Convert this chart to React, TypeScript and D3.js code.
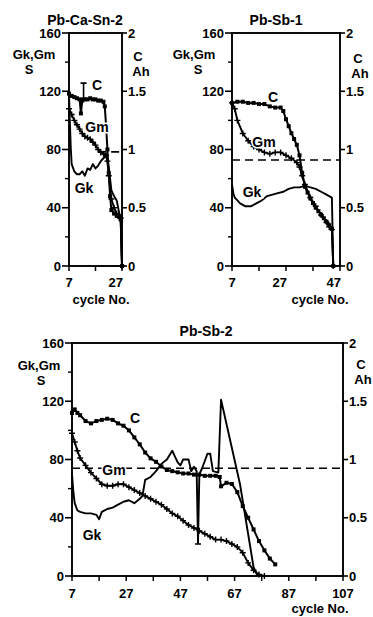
import * as d3 from "d3";

// ---- values (cycle No. / S / Ah) ----

// Pb-Ca-Sn-2
const pcsCycleC = [7, 8, 9, 10, 11, 11.5, 12, 13, 14, 15, 16, 17, 18, 19, 20, 20.5, 21, 21.5, 22, 22.5, 23, 24, 25, 26, 26.5, 27];
const pcsC = [1.48, 1.46, 1.45, 1.44, 1.43, 1.31, 1.42, 1.43, 1.43, 1.44, 1.43, 1.43, 1.42, 1.42, 1.41, 1.37, 1.2, 1.0, 0.8, 0.6, 0.48, 0.45, 0.43, 0.42, 0.4, 0];
const pcsCycleGm = [7, 8, 9, 10, 11, 12, 13, 14, 15, 16, 17, 18, 19, 20, 21, 21.5, 22, 23, 24, 25, 26, 26.5, 27];
const pcsGm = [108, 104, 100, 97, 94, 91, 89, 88, 87, 85, 83, 80, 78, 77, 76, 72, 62, 46, 40, 36, 34, 33, 0];
const pcsCycleGk = [7, 7.3, 7.7, 8, 9, 10, 11, 12, 13, 14, 15, 16, 17, 18, 19, 20, 21, 22, 23, 24, 25, 26, 26.5, 27];
const pcsGk = [118, 100, 80, 70, 65, 63, 63, 65, 62, 67, 66, 70, 67, 69, 72, 74, 76, 68, 52, 48, 45, 36, 34, 0];

// Pb-Sb-1
const sb1CycleC = [7, 9, 11, 13, 15, 17, 19, 21, 23, 25, 26, 27, 28, 29, 30, 31, 32, 33, 34, 35, 36, 37, 38, 39, 40, 41, 42, 43, 44, 44.5];
const sb1C = [1.4, 1.41, 1.41, 1.4, 1.4, 1.39, 1.39, 1.37, 1.36, 1.36, 1.33, 1.26, 1.2, 1.14, 1.09, 1.04, 0.95, 0.8, 0.68, 0.63, 0.58, 0.54, 0.5, 0.47, 0.44, 0.41, 0.38, 0.35, 0.32, 0];
const sb1CycleGm = [7, 8, 9, 11, 13, 15, 17, 19, 21, 23, 25, 27, 29, 31, 32, 33, 34, 36, 38, 40, 42, 43, 44, 44.5];
const sb1Gm = [112, 108, 100, 91, 86, 82, 80, 78, 77, 78, 78, 76, 74, 71, 68, 62, 56, 47, 41, 35, 30, 27, 25, 0];
const sb1CycleGk = [7, 7.5, 8, 9, 10, 11, 12, 14, 16, 18, 20, 22, 24, 26, 28, 30, 32, 34, 36, 38, 40, 42, 44, 44.5];
const sb1Gk = [56, 50, 47, 45, 43, 42, 41, 41, 43, 45, 48, 49, 50, 51, 53, 54, 54, 55, 54, 53, 51, 49, 47, 0];

// Pb-Sb-2
const sb2CycleC = [7, 8, 9, 10, 12, 14, 16, 18, 20, 22, 24, 26, 28, 30, 32, 34, 36, 38, 40, 42, 44, 46, 48, 50, 52, 54, 56, 58, 60, 61.5, 62, 64, 66, 68, 70, 72, 74, 76, 78, 80, 82];
const sb2C = [1.4, 1.43, 1.4, 1.38, 1.33, 1.31, 1.33, 1.34, 1.35, 1.34, 1.31, 1.29, 1.25, 1.19, 1.13, 1.06, 1.01, 0.98, 0.94, 0.91, 0.9, 0.89, 0.88, 0.88, 0.87, 0.87, 0.86, 0.86, 0.86, 0.85, 0.77, 0.8, 0.79, 0.72, 0.6, 0.5, 0.4, 0.3, 0.22, 0.15, 0.1];
const sb2CycleGm = [7, 8, 9, 10, 12, 14, 16, 18, 20, 22, 24, 26, 28, 30, 32, 34, 36, 38, 40, 42, 44, 46, 48, 50, 52, 54, 56, 58, 60, 62, 64, 66, 68, 70, 72, 74, 76, 78];
const sb2Gm = [98, 92, 86, 81, 76, 71, 67, 63, 62, 62, 63, 63, 61, 59, 57, 55, 53, 51, 49, 46, 43, 41, 38, 35, 33, 31, 29, 27, 25, 25, 24, 22, 20, 16, 9, 4, 1, 0];
const sb2CycleGk = [7, 7.5, 8, 9, 10, 12, 14, 16, 17, 18, 20, 22, 24, 26, 28, 30, 32, 33, 34, 36, 38, 40, 42, 44, 45, 46, 47, 48, 50, 51, 52, 53, 53.5, 54, 55, 57, 58, 59, 61, 62, 69, 74, 75.5];
const sb2Gk = [70, 58, 50, 45, 44, 43, 43, 42, 39, 44, 46, 47, 49, 51, 52, 50, 53, 55, 66, 68, 72, 77, 80, 86, 82, 78, 76, 80, 80, 72, 75, 72, 23, 70, 74, 84, 84, 72, 71, 121, 63, 6, 0];

// axis ticks
const gTicks = [0, 40, 80, 120, 160];
const gMinorTicks = [20, 60, 100, 140];
const cTicks = [0, 0.5, 1, 1.5, 2];
const pcsXTicks = [7, 17, 27];
const pcsXLabels = [7, 27];
const sb1XTicks = [7, 17, 27, 37, 47];
const sb1XLabels = [7, 27, 47];
const sb2XTicks = [7, 17, 27, 37, 47, 57, 67, 77, 87, 97, 107];
const sb2XLabels = [7, 27, 47, 67, 87, 107];

const FONT = "'Liberation Sans', Arial, sans-serif";

type Pt = [number, number];
const zip = (xs: number[], ys: number[]): Pt[] => xs.map((x, i) => [x, ys[i]]);

type PanelProps = {
  title: string;
  box: { left: number; right: number; top: number; bottom: number };
  xDomain: [number, number];
  xTicks: number[];
  xLabels: number[];
  xLabelAnchor: "middle" | "end";
  labelBase: number;
  C: Pt[];
  Gm: Pt[];
  Gk: Pt[];
  dashAh: number;
  dashFrom?: number;
  errC?: { cycle: number; lo: number; hi: number }[];
  errG?: { cycle: number; lo: number; hi: number }[];
  pos: {
    title: Pt; cycle: Pt; gk: Pt; s: Pt; c: Pt; ah: Pt;
    lC: Pt; lGm: Pt; lGk: Pt;
  };
};

function Panel(p: PanelProps) {
  const { left, right, top, bottom } = p.box;
  const x = d3.scaleLinear().domain(p.xDomain).range([left, right]);
  const yG = d3.scaleLinear().domain([0, 160]).range([bottom, top]);
  const yC = d3.scaleLinear().domain([0, 2]).range([bottom, top]);
  const lineG = d3.line<Pt>().x((d) => x(d[0])).y((d) => yG(d[1]));
  const lineC = d3.line<Pt>().x((d) => x(d[0])).y((d) => yC(d[1]));
  const halo = { stroke: "#fff", strokeWidth: 3, paintOrder: "stroke" as const };
  const t = (xy: Pt, s: string, size = 14, anchor = "middle") => (
    <text x={xy[0]} y={xy[1]} textAnchor={anchor} fontSize={size}>{s}</text>
  );
  const dashStart = p.dashFrom !== undefined ? x(p.dashFrom) : left;

  return (
    <g fontFamily={FONT} fontWeight="bold" fill="#000">
      {/* dashed reference */}
      <line x1={dashStart} x2={right} y1={yC(p.dashAh)} y2={yC(p.dashAh)} stroke="#000" strokeWidth={1.7} strokeDasharray="8 5" />

      {/* series */}
      <path d={lineG(p.Gk) ?? ""} fill="none" stroke="#000" strokeWidth={1.9} strokeLinejoin="round" />
      <path d={lineG(p.Gm) ?? ""} fill="none" stroke="#000" strokeWidth={1.9} strokeLinejoin="round" />
      <path d={lineC(p.C) ?? ""} fill="none" stroke="#000" strokeWidth={2} strokeLinejoin="round" />
      {p.Gm.map((d, i) => (
        <path key={"gm" + i} d={`M${x(d[0]) - 3},${yG(d[1])}h6M${x(d[0])},${yG(d[1]) - 3}v6`} stroke="#000" strokeWidth={1.4} />
      ))}
      {p.C.map((d, i) => (
        <rect key={"c" + i} x={x(d[0]) - 2} y={yC(d[1]) - 2} width={4} height={4} fill="#000" />
      ))}
      {(p.errC ?? []).map((e, i) => (
        <path key={"ec" + i} d={`M${x(e.cycle)},${yC(e.lo)}V${yC(e.hi)}M${x(e.cycle) - 3},${yC(e.hi)}h6M${x(e.cycle) - 3},${yC(e.lo)}h6`} stroke="#000" strokeWidth={1.6} />
      ))}
      {(p.errG ?? []).map((e, i) => (
        <path key={"eg" + i} d={`M${x(e.cycle)},${yG(e.lo)}V${yG(e.hi)}M${x(e.cycle) - 3},${yG(e.lo)}h6`} stroke="#000" strokeWidth={1.6} />
      ))}

      {/* frame */}
      <rect x={left} y={top} width={right - left} height={bottom - top} fill="none" stroke="#000" strokeWidth={1.9} />

      {/* left axis */}
      {gTicks.map((v) => (
        <g key={"g" + v}>
          <line x1={left - 7} x2={left} y1={yG(v)} y2={yG(v)} stroke="#000" strokeWidth={1.6} />
          <text x={left - 8} y={yG(v)} dy="0.36em" textAnchor="end" fontSize={13}>{v}</text>
        </g>
      ))}
      {gMinorTicks.map((v) => (
        <line key={"gm" + v} x1={left - 4} x2={left} y1={yG(v)} y2={yG(v)} stroke="#000" strokeWidth={1.4} />
      ))}

      {/* right axis */}
      {cTicks.map((v) => (
        <g key={"c" + v}>
          <line x1={right} x2={right + 5} y1={yC(v)} y2={yC(v)} stroke="#000" strokeWidth={1.6} />
          <text x={right + 6} y={yC(v)} dy="0.36em" textAnchor="start" fontSize={13}>{v}</text>
        </g>
      ))}

      {/* x axis */}
      {p.xTicks.map((v) => (
        <line key={"x" + v} x1={x(v)} x2={x(v)} y1={bottom} y2={bottom + 5} stroke="#000" strokeWidth={1.5} />
      ))}
      {p.xLabels.map((v) => (
        <text key={"xl" + v} x={x(v) + (p.xLabelAnchor === "end" && v !== p.xDomain[0] ? 1 : 0)} y={p.labelBase}
          textAnchor={v === p.xDomain[0] ? "middle" : p.xLabelAnchor} fontSize={13}>{v}</text>
      ))}

      {/* titles */}
      {t(p.pos.title, p.title, 14)}
      {t(p.pos.cycle, "cycle No.", 13)}
      {t(p.pos.gk, "Gk,Gm", 13)}
      {t(p.pos.s, "S", 13)}
      {t(p.pos.c, "C", 13)}
      {t(p.pos.ah, "Ah", 13)}

      {/* series labels */}
      <g {...halo}>
        {t(p.pos.lC, "C", 14)}
        {t(p.pos.lGm, "Gm", 14)}
        {t(p.pos.lGk, "Gk", 14)}
      </g>
    </g>
  );
}

export default function App() {
  return (
    <svg width={373} height={617} style={{ position: "absolute", left: 0, top: 0, background: "#fff" }}>
      <Panel
        title="Pb-Ca-Sn-2"
        box={{ left: 69, right: 122, top: 33, bottom: 266 }}
        xDomain={[7, 27]}
        xTicks={pcsXTicks}
        xLabels={pcsXLabels}
        xLabelAnchor="end"
        labelBase={287}
        C={zip(pcsCycleC, pcsC)}
        Gm={zip(pcsCycleGm, pcsGm)}
        Gk={zip(pcsCycleGk, pcsGk)}
        dashAh={0.98}
        dashFrom={18}
        errC={[{ cycle: 12.5, lo: 1.44, hi: 1.57 }]}
        pos={{
          title: [85, 25], cycle: [101, 304], gk: [34, 59], s: [29, 74], c: [138, 61], ah: [141, 76],
          lC: [97, 90], lGm: [97, 132], lGk: [84, 193],
        }}
      />
      <Panel
        title="Pb-Sb-1"
        box={{ left: 232, right: 340, top: 33, bottom: 266 }}
        xDomain={[7, 47]}
        xTicks={sb1XTicks}
        xLabels={sb1XLabels}
        xLabelAnchor="end"
        labelBase={287}
        C={zip(sb1CycleC, sb1C)}
        Gm={zip(sb1CycleGm, sb1Gm)}
        Gk={zip(sb1CycleGk, sb1Gk)}
        dashAh={0.91}
        pos={{
          title: [276, 25], cycle: [320, 304], gk: [194, 59], s: [198, 74], c: [358, 63], ah: [360, 78],
          lC: [273, 102], lGm: [264, 147], lGk: [252, 197],
        }}
      />
      <Panel
        title="Pb-Sb-2"
        box={{ left: 72, right: 343, top: 343, bottom: 576 }}
        xDomain={[7, 107]}
        xTicks={sb2XTicks}
        xLabels={sb2XLabels}
        xLabelAnchor="middle"
        labelBase={598}
        C={zip(sb2CycleC, sb2C)}
        Gm={zip(sb2CycleGm, sb2Gm)}
        Gk={zip(sb2CycleGk, sb2Gk)}
        dashAh={0.925}
        errG={[{ cycle: 53.5, lo: 22, hi: 26 }]}
        pos={{
          title: [206, 336], cycle: [320, 613], gk: [39, 370], s: [41, 385], c: [361, 369], ah: [363, 384],
          lC: [135, 423], lGm: [114, 475], lGk: [92, 540],
        }}
      />
    </svg>
  );
}
